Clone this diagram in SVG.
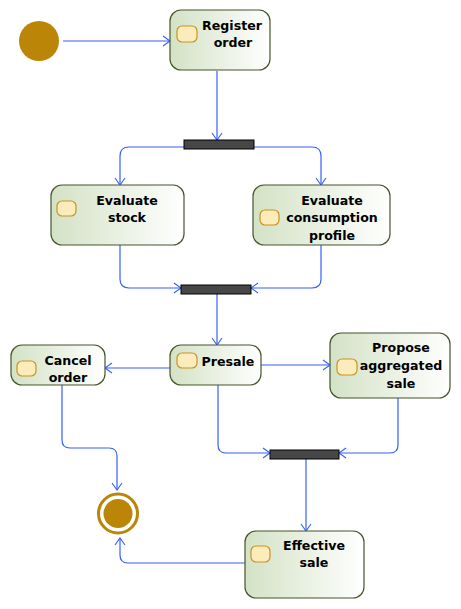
<svg xmlns="http://www.w3.org/2000/svg" width="461" height="609" viewBox="0 0 461 609">
<style>
.node{fill:url(#g);stroke:#44552a;stroke-width:1.2}
.icon{fill:#fdecbb;stroke:#c8941f;stroke-width:1.2}
.bar{fill:#474747;stroke:#000;stroke-width:1}
.t{font-family:"DejaVu Sans",Verdana,sans-serif;font-weight:bold;font-size:12.6px;fill:#000;text-anchor:middle}
.c{fill:none;stroke:#3560f8;stroke-width:1.2}
</style>
<defs>
<linearGradient id="g" x1="0" y1="0" x2="1" y2="0">
<stop offset="0" stop-color="#d3e2c5"/>
<stop offset="1" stop-color="#ffffff"/>
</linearGradient>
<marker id="a" markerWidth="12" markerHeight="12" refX="10" refY="6" orient="auto" markerUnits="userSpaceOnUse">
<path d="M3,1 L10,6 L3,11" fill="none" stroke="#3560f8" stroke-width="1.1"/>
</marker>
</defs>
<g id="connectors">
<path class="c" d="M63,41 H170" marker-end="url(#a)"/>
<path class="c" d="M217,71 V140" marker-end="url(#a)"/>
<path class="c" d="M184,147 H129 Q120,147 120,156 V185" marker-end="url(#a)"/>
<path class="c" d="M254,147 H312 Q321,147 321,156 V185" marker-end="url(#a)"/>
<path class="c" d="M120,245 V279 Q120,288 129,288 H181" marker-end="url(#a)"/>
<path class="c" d="M321,245 V279 Q321,288 312,288 H251" marker-end="url(#a)"/>
<path class="c" d="M217,294 V345" marker-end="url(#a)"/>
<path class="c" d="M170,368 H105" marker-end="url(#a)"/>
<path class="c" d="M261,365 H330" marker-end="url(#a)"/>
<path class="c" d="M218,385 V445 Q218,453 226,453 H270" marker-end="url(#a)"/>
<path class="c" d="M398,398 V445 Q398,453 390,453 H339" marker-end="url(#a)"/>
<path class="c" d="M62,385 V440 Q62,448 70,448 H109 Q117,448 117,456 V490" marker-end="url(#a)"/>
<path class="c" d="M306,459 V531" marker-end="url(#a)"/>
<path class="c" d="M245,563 H128 Q120,563 120,555 V538" marker-end="url(#a)"/>
</g>
<g id="initial"><circle cx="39" cy="41" r="20" fill="#bb8608"/></g>
<g id="final"><circle cx="118" cy="513.5" r="19.5" fill="#fff" stroke="#bb8608" stroke-width="3"/><circle cx="118" cy="513.5" r="14.5" fill="#bb8608"/></g>
<g id="fork1"><rect class="bar" x="184" y="140" width="70" height="9"/></g>
<g id="join1"><rect class="bar" x="181" y="285" width="70" height="9"/></g>
<g id="join2"><rect class="bar" x="270" y="450" width="69" height="9"/></g>
<g id="register-order">
<rect class="node" x="170" y="10" width="100" height="60" rx="11"/>
<rect class="icon" x="177" y="26" width="20" height="16" rx="5"/>
<text class="t" x="232" y="30">Register</text>
<text class="t" x="233" y="47">order</text>
</g>
<g id="evaluate-stock">
<rect class="node" x="51" y="185" width="133" height="60" rx="11"/>
<rect class="icon" x="57" y="201" width="19" height="15" rx="5"/>
<text class="t" x="127" y="205">Evaluate</text>
<text class="t" x="127" y="222">stock</text>
</g>
<g id="evaluate-consumption">
<rect class="node" x="253" y="185" width="137" height="60" rx="11"/>
<rect class="icon" x="260" y="210" width="19" height="15" rx="5"/>
<text class="t" x="332" y="205">Evaluate</text>
<text class="t" x="332" y="222">consumption</text>
<text class="t" x="332" y="240">profile</text>
</g>
<g id="presale">
<rect class="node" x="170" y="345" width="91" height="40" rx="11"/>
<rect class="icon" x="177" y="353" width="20" height="15" rx="5"/>
<text class="t" x="228" y="366">Presale</text>
</g>
<g id="cancel-order">
<rect class="node" x="11" y="345" width="94" height="40" rx="11"/>
<rect class="icon" x="17" y="361" width="19" height="15" rx="5"/>
<text class="t" x="68" y="365">Cancel</text>
<text class="t" x="68" y="382">order</text>
</g>
<g id="propose-aggregated">
<rect class="node" x="330" y="333" width="120" height="65" rx="11"/>
<rect class="icon" x="337" y="359" width="20" height="16" rx="5"/>
<text class="t" x="401" y="352">Propose</text>
<text class="t" x="401" y="370">aggregated</text>
<text class="t" x="401" y="388">sale</text>
</g>
<g id="effective-sale">
<rect class="node" x="245" y="531" width="119" height="67" rx="11"/>
<rect class="icon" x="251" y="546" width="19" height="16" rx="5"/>
<text class="t" x="314" y="550">Effective</text>
<text class="t" x="314" y="567">sale</text>
</g>
</svg>
